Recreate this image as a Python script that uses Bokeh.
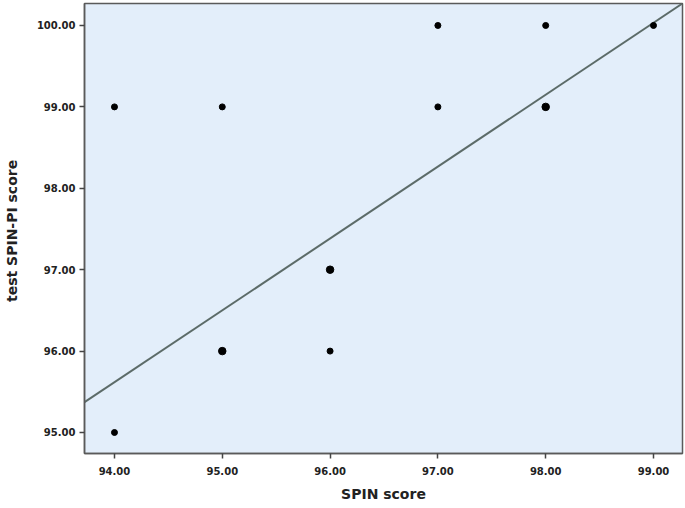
from bokeh.plotting import figure
from bokeh.models import FixedTicker, Range1d
from bokeh.embed import file_html
from bokeh.resources import INLINE

# Data
spin_score = [94, 95, 97, 98, 99, 97, 98, 96, 95, 96, 94]
test_spin_pi = [99, 99, 100, 100, 100, 99, 99, 97, 96, 96, 95]
dot_size = [6, 6, 6, 6, 6, 6, 7.5, 7.5, 7.5, 6, 6]   # heavier dots = overlapping cases

fit_x = [93.722, 99.269]
fit_y = [95.372, 100.27]

x_ticks = [94, 95, 96, 97, 98, 99]
x_tick_labels = ["94.00", "95.00", "96.00", "97.00", "98.00", "99.00"]
y_ticks = [95, 96, 97, 98, 99, 100]
y_tick_labels = ["95.00", "96.00", "97.00", "98.00", "99.00", "100.00"]

x_label = "SPIN score"
y_label = "test SPIN-PI  score"

p = figure(width=684, height=505, output_backend="svg", toolbar_location=None,
           x_range=Range1d(93.722, 99.269), y_range=Range1d(94.742, 100.27),
           min_border_left=83, min_border_right=3, min_border_top=3, min_border_bottom=52)
p.frame_width = 598
p.frame_height = 450

p.background_fill_color = "#E3EEFA"
p.border_fill_color = "white"
p.outline_line_color = "#5a5a5a"
p.outline_line_width = 1.5
p.xgrid.visible = False
p.ygrid.visible = False

p.line(fit_x, fit_y, line_color="#5c6b68", line_width=2)
p.scatter(spin_score, test_spin_pi, size=dot_size, color="black")

for ax, ticks, labels in ((p.xaxis[0], x_ticks, x_tick_labels), (p.yaxis[0], y_ticks, y_tick_labels)):
    ax.ticker = FixedTicker(ticks=ticks)
    ax.major_label_overrides = {t: l for t, l in zip(ticks, labels)}
    ax.minor_tick_line_color = None
    ax.major_tick_in = 0
    ax.major_tick_out = 5
    ax.major_tick_line_color = "#444444"
    ax.major_tick_line_width = 1.5
    ax.axis_line_color = "#5a5a5a"
    ax.axis_line_width = 1.5
    ax.major_label_text_font = "DejaVu Sans"
    ax.major_label_text_font_style = "bold"
    ax.major_label_text_font_size = "10px"
    ax.major_label_text_color = "#222222"
    ax.axis_label_text_font = "DejaVu Sans"
    ax.axis_label_text_font_style = "bold"
    ax.axis_label_text_font_size = "14px"
    ax.axis_label_text_color = "#222222"

p.xaxis[0].axis_label = x_label
p.yaxis[0].axis_label = y_label
p.xaxis[0].major_label_standoff = 8
p.xaxis[0].axis_label_standoff = 8
p.yaxis[0].major_label_standoff = 4
p.yaxis[0].axis_label_standoff = 14

open("out.html", "w").write(file_html(p, INLINE))
